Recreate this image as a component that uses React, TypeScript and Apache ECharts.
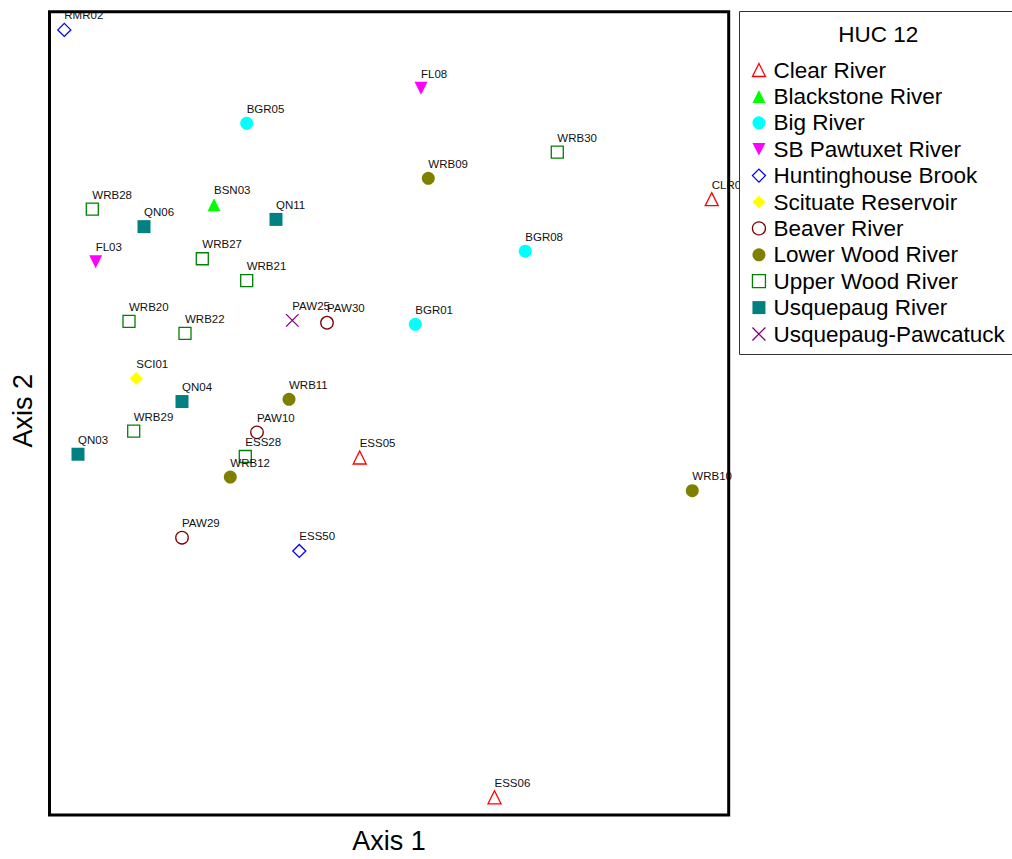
import React, { useEffect, useRef } from "react";
import * as echarts from "echarts";

// Ordination scores of each sampling site (arbitrary NMS units)
const siteNames = [
  "RMR02", "BGR05", "WRB28", "QN06", "BSN03", "QN11", "FL08", "WRB30", "WRB09", "CLR01",
  "BGR08", "FL03", "WRB27", "WRB21", "WRB20", "WRB22", "PAW25", "PAW30", "SCI01", "QN04",
  "WRB11", "WRB29", "PAW10", "QN03", "ESS28", "WRB12", "ESS05", "BGR01", "WRB10", "ESS50",
  "PAW29", "ESS06",
];
const axis1Scores = [
  14.8, 197.2, 42.8, 94.5, 164.5, 226.5, 371.5, 507.8, 378.8, 662.2,
  475.8, 46.2, 152.8, 197.2, 79.5, 135.5, 242.8, 277.5, 86.8, 132.5,
  239.5, 84.2, 207.5, 28.5, 195.8, 180.8, 310.2, 365.8, 642.8, 249.8,
  132.5, 445.0,
];
const axis2Scores = [
  785.0, 691.0, 604.7, 587.0, 609.0, 594.3, 726.3, 662.0, 635.7, 614.7,
  562.3, 551.7, 554.7, 532.7, 491.7, 479.7, 492.7, 490.3, 434.3, 411.0,
  413.3, 381.3, 380.0, 358.0, 355.7, 335.0, 354.7, 488.7, 321.3, 260.7,
  274.0, 12.8,
];
// HUC 12 watershed of each site
const siteHuc = [
  "Huntinghouse Brook", "Big River", "Upper Wood River", "Usquepaug River", "Blackstone River",
  "Usquepaug River", "SB Pawtuxet River", "Upper Wood River", "Lower Wood River", "Clear River",
  "Big River", "SB Pawtuxet River", "Upper Wood River", "Upper Wood River", "Upper Wood River",
  "Upper Wood River", "Usquepaug-Pawcatuck", "Beaver River", "Scituate Reservoir", "Usquepaug River",
  "Lower Wood River", "Upper Wood River", "Beaver River", "Usquepaug River", "Upper Wood River",
  "Lower Wood River", "Clear River", "Big River", "Lower Wood River", "Huntinghouse Brook",
  "Beaver River", "Clear River",
];

const hucNames = [
  "Clear River", "Blackstone River", "Big River", "SB Pawtuxet River", "Huntinghouse Brook",
  "Scituate Reservoir", "Beaver River", "Lower Wood River", "Upper Wood River", "Usquepaug River",
  "Usquepaug-Pawcatuck",
];

const axis1Range = [0, 679.2];
const axis2Range = [0, 803.3];

// Marker style for each watershed
const hucStyles: Record<string, { symbol: string; size: number; color: string; hollow: boolean }> = {
  "Clear River": { symbol: "triangle", size: 13, color: "#ff0000", hollow: true },
  "Blackstone River": { symbol: "triangle", size: 13, color: "#00ff00", hollow: false },
  "Big River": { symbol: "circle", size: 13, color: "#00ffff", hollow: false },
  "SB Pawtuxet River": { symbol: "path://M0,0L20,0L10,19Z", size: 13, color: "#ff00ff", hollow: false },
  "Huntinghouse Brook": { symbol: "diamond", size: 13, color: "#0000ff", hollow: true },
  "Scituate Reservoir": { symbol: "diamond", size: 13, color: "#ffff00", hollow: false },
  "Beaver River": { symbol: "circle", size: 12.5, color: "#800000", hollow: true },
  "Lower Wood River": { symbol: "circle", size: 13, color: "#808000", hollow: false },
  "Upper Wood River": { symbol: "rect", size: 12, color: "#008000", hollow: true },
  "Usquepaug River": { symbol: "rect", size: 13, color: "#008080", hollow: false },
  "Usquepaug-Pawcatuck": { symbol: "path://M0,0L10,10M10,0L0,10", size: 12.5, color: "#800080", hollow: true },
};

const FONT = "'Liberation Sans', Arial, sans-serif";

// Plot frame in page pixels
const GRID = { left: 49.5, top: 11.7, width: 679.2, height: 803.3 };

export default function App() {
  const ref = useRef<HTMLDivElement>(null);

  useEffect(() => {
    if (!ref.current) return;
    const chart = echarts.init(ref.current, null, { renderer: "svg" });

    const series = hucNames.map((huc) => {
      const st = hucStyles[huc];
      const data = siteNames
        .map((name, i) => ({ name, value: [axis1Scores[i], axis2Scores[i]], huc: siteHuc[i] }))
        .filter((d) => d.huc === huc)
        .map((d) => ({ name: d.name, value: d.value }));
      return {
        type: "scatter",
        name: huc,
        data,
        symbol: st.symbol,
        symbolSize: st.size,
        itemStyle: st.hollow
          ? { color: "transparent", borderColor: st.color, borderWidth: 1.3, opacity: 1 }
          : { color: st.color, borderWidth: 0, opacity: 1 },
        label: {
          show: true,
          position: "inside",
          align: "left",
          verticalAlign: "middle",
          offset: [0, -14.5],
          formatter: (p: any) => p.name,
          color: "#111",
          fontSize: 11.5,
          fontFamily: FONT,
        },
        emphasis: { disabled: true },
      };
    });

    const legendData = hucNames.map((huc) =>
      hucStyles[huc].hollow
        ? { name: huc, itemStyle: { borderWidth: 1.3, borderColor: hucStyles[huc].color, color: "transparent", opacity: 1 } }
        : { name: huc, itemStyle: { opacity: 1 } }
    );

    chart.setOption({
      animation: false,
      grid: { ...GRID, show: false, containLabel: false },
      xAxis: {
        type: "value",
        min: axis1Range[0],
        max: axis1Range[1],
        name: "Axis 1",
        nameLocation: "middle",
        nameGap: 17,
        nameTextStyle: { fontSize: 27, color: "#000", fontFamily: FONT },
        axisLine: { show: false },
        axisTick: { show: false },
        axisLabel: { show: false },
        splitLine: { show: false },
      },
      yAxis: {
        type: "value",
        min: axis2Range[0],
        max: axis2Range[1],
        name: "Axis 2",
        nameLocation: "middle",
        nameGap: 13,
        nameTextStyle: { fontSize: 27, color: "#000", fontFamily: FONT },
        axisLine: { show: false },
        axisTick: { show: false },
        axisLabel: { show: false },
        splitLine: { show: false },
      },
      legend: {
        show: true,
        orient: "vertical",
        left: 751.8,
        top: 56.8,
        padding: 0,
        itemGap: 0,
        itemWidth: 13,
        itemHeight: 13,
        selectedMode: false,
        z: 20,
        data: legendData,
        textStyle: {
          fontSize: 22.5,
          lineHeight: 26.4,
          color: "#000",
          fontFamily: FONT,
          padding: [0, 0, 0, 3],
        },
      },
      graphic: [
        {
          type: "rect",
          z: 5,
          silent: true,
          shape: { x: GRID.left, y: GRID.top, width: GRID.width, height: GRID.height },
          style: { fill: "none", stroke: "#000", lineWidth: 3 },
        },
        {
          type: "rect",
          z: 10,
          silent: true,
          shape: { x: 739.5, y: 11.5, width: 290, height: 343 },
          style: { fill: "#fff", stroke: "#333", lineWidth: 1 },
        },
        {
          type: "text",
          z: 20,
          silent: true,
          x: 878.3,
          y: 34.5,
          style: {
            text: "HUC 12",
            fontSize: 22.5,
            fontFamily: FONT,
            fill: "#000",
            align: "center",
            verticalAlign: "middle",
          },
        },
      ],
      series,
    });

    return () => chart.dispose();
  }, []);

  return (
    <div
      ref={ref}
      style={{ position: "absolute", left: 0, top: 0, width: 1012, height: 859, background: "#fff" }}
    />
  );
}
